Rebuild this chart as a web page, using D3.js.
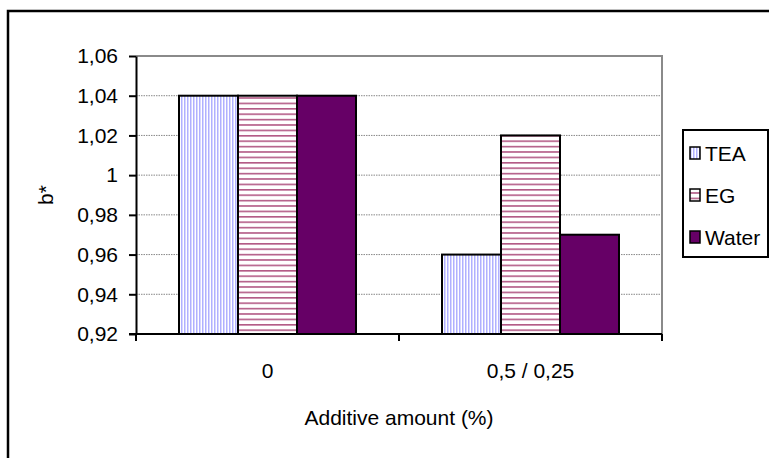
<!DOCTYPE html>
<html>
<head>
<meta charset="utf-8">
<script src="https://cdn.jsdelivr.net/npm/d3@7"></script>
<style>
  html, body { margin: 0; padding: 0; background: #fff; }
  svg { display: block; font-family: "Liberation Sans", Arial, sans-serif; }
</style>
</head>
<body>
<svg id="chart" width="769" height="458"></svg>
<script>
const categories = ["0", "0,5 / 0,25"];
const seriesNames = ["TEA", "EG", "Water"];
const teaValues = [1.04, 0.96];
const egValues = [1.04, 1.02];
const waterValues = [1.04, 0.97];
const yTickValues = [0.92, 0.94, 0.96, 0.98, 1.00, 1.02, 1.04, 1.06];
const yTickLabels = ["0,92", "0,94", "0,96", "0,98", "1", "1,02", "1,04", "1,06"];
const xTitle = "Additive amount (%)";
const yTitle = "b*";

const seriesValues = [teaValues, egValues, waterValues];
const svg = d3.select("#chart");

const plot = { left: 136, right: 662, top: 56, bottom: 334 };

// patterns
const defs = svg.append("defs");
const pTea = defs.append("pattern").attr("id", "pTea").attr("patternUnits", "userSpaceOnUse")
  .attr("width", 3).attr("height", 10);
pTea.append("rect").attr("width", 3).attr("height", 10).attr("fill", "#ffffff");
pTea.append("rect").attr("x", 0).attr("width", 1.5).attr("height", 10).attr("fill", "#b0b0ff");
const pEg = defs.append("pattern").attr("id", "pEg").attr("patternUnits", "userSpaceOnUse")
  .attr("width", 10).attr("height", 5.4);
pEg.append("rect").attr("width", 10).attr("height", 5.4).attr("fill", "#ffffff");
pEg.append("rect").attr("y", 0).attr("width", 10).attr("height", 1.6).attr("fill", "#b35a86");

const fills = { TEA: "url(#pTea)", EG: "url(#pEg)", Water: "#660066" };

// outer frame
svg.append("rect").attr("x", 8).attr("y", 11).attr("width", 800).attr("height", 500)
  .attr("fill", "none").attr("stroke", "#000").attr("stroke-width", 2.5);

const x0 = d3.scaleBand().domain(categories).range([plot.left, plot.right]).paddingInner(0).paddingOuter(0);
const x1 = d3.scaleBand().domain(seriesNames).range([0, x0.bandwidth()]).paddingInner(0).paddingOuter(0.729);
const y = d3.scaleLinear().domain([0.92, 1.06]).range([plot.bottom, plot.top]);

// gridlines
svg.append("g").selectAll("line").data(yTickValues.filter(v => v > 0.92 && v < 1.06)).join("line")
  .attr("x1", plot.left).attr("x2", plot.right)
  .attr("y1", d => y(d)).attr("y2", d => y(d))
  .attr("stroke", "#888").attr("stroke-width", 1).attr("stroke-dasharray", "1.5,1");

// plot border (top + right) gray
svg.append("path")
  .attr("d", `M${plot.left},${y(1.06)}H${plot.right}V${plot.bottom}`)
  .attr("fill", "none").attr("stroke", "#8a8a8a").attr("stroke-width", 2);

// bars
const groups = svg.append("g").selectAll("g").data(categories).join("g")
  .attr("transform", d => `translate(${x0(d)},0)`);
groups.selectAll("rect").data((c, i) => seriesNames.map((s, j) => ({ s, v: seriesValues[j][i] }))).join("rect")
  .attr("x", d => x1(d.s)).attr("width", x1.bandwidth())
  .attr("y", d => y(d.v)).attr("height", d => y(0.92) - y(d.v))
  .attr("fill", d => fills[d.s]).attr("stroke", "#000").attr("stroke-width", 2);

// y axis
const yAxis = d3.axisLeft(y).tickValues(yTickValues)
  .tickFormat((d, i) => yTickLabels[i]).tickSize(7).tickPadding(11).tickSizeOuter(0);
const gy = svg.append("g").attr("transform", `translate(${plot.left},0)`).call(yAxis);
gy.select(".domain").attr("stroke", "#000").attr("stroke-width", 2);
gy.selectAll(".tick line").attr("stroke", "#000").attr("stroke-width", 2);
gy.selectAll(".tick text").attr("font-size", 21).attr("fill", "#000")
  .attr("font-family", "'Liberation Sans', Arial, sans-serif");

// x axis
const xTickScale = d3.scaleLinear().domain([0, categories.length]).range([plot.left, plot.right]);
const gx = svg.append("g").attr("transform", `translate(0,${plot.bottom})`);
gx.append("line").attr("x1", plot.left - 7).attr("x2", plot.right).attr("y1", 0).attr("y2", 0)
  .attr("stroke", "#000").attr("stroke-width", 2);
gx.selectAll("line.tk").data(d3.range(categories.length + 1)).join("line").attr("class", "tk")
  .attr("x1", d => xTickScale(d)).attr("x2", d => xTickScale(d)).attr("y1", 0).attr("y2", 7)
  .attr("stroke", "#000").attr("stroke-width", 2);
gx.selectAll("text").data(categories).join("text")
  .attr("x", d => x0(d) + x0.bandwidth() / 2).attr("y", 44)
  .attr("text-anchor", "middle").attr("font-size", 21).attr("fill", "#000").text(d => d);

// axis titles
svg.append("text").attr("x", (plot.left + plot.right) / 2).attr("y", 425)
  .attr("text-anchor", "middle").attr("font-size", 21).attr("fill", "#000").text(xTitle);
svg.append("text").attr("transform", `translate(53,${(plot.top + plot.bottom) / 2}) rotate(-90)`)
  .attr("text-anchor", "middle").attr("font-size", 21).attr("fill", "#000").text(yTitle);

// legend
const lg = svg.append("g");
lg.append("rect").attr("x", 683).attr("y", 130).attr("width", 85).attr("height", 127)
  .attr("fill", "#fff").attr("stroke", "#000").attr("stroke-width", 2);
const baselines = [161, 203, 245];
const items = lg.selectAll("g").data(seriesNames).join("g")
  .attr("transform", (d, i) => `translate(0,${baselines[i]})`);
items.append("rect").attr("x", 690).attr("y", -14).attr("width", 10).attr("height", 12)
  .attr("fill", d => fills[d]).attr("stroke", "#000").attr("stroke-width", 1.5);
items.append("text").attr("x", 705).attr("y", 0).attr("font-size", 21).attr("fill", "#000").text(d => d);
</script>
</body>
</html>
